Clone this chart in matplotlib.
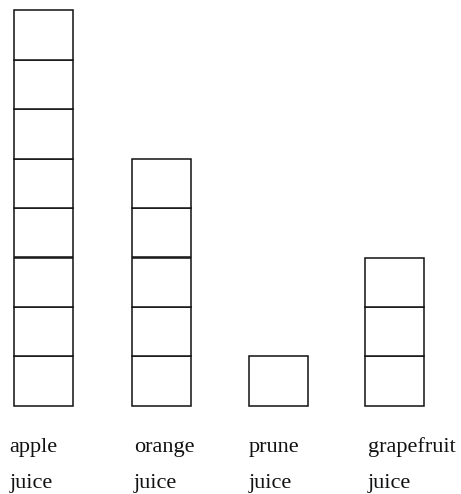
import matplotlib
matplotlib.use("Agg")
import matplotlib.pyplot as plt

# juice counts, one box per unit
juices = ["apple\njuice", "orange\njuice", "prune\njuice", "grapefruit\njuice"]
counts = [8, 5, 1, 3]

# column layout in pixels
col_left = [13.5, 131.5, 248.5, 364.5]
col_width = 59
label_left = [9.5, 134, 249, 368]
box_px = 49.4
base_px = 405.7
W, H = 461, 494

fig = plt.figure(figsize=(W / 100, H / 100), dpi=100)
ax = fig.add_axes([0, 0, 1, 1])
ax.set_xlim(0, W)
ax.set_ylim(-(H - base_px) / box_px, base_px / box_px)
ax.axis("off")

for name, n, x0, lx in zip(juices, counts, col_left, label_left):
    for i in range(n):
        ax.bar(x0, 1, bottom=i, width=col_width, align="edge",
               facecolor="white", edgecolor="#111111", linewidth=1.1)
    first, second = name.split("\n")
    ax.text(lx, -46.3 / box_px, first, family="Liberation Serif",
            fontsize=16, va="baseline", ha="left", color="#111111")
    ax.text(lx, -82.3 / box_px, second, family="Liberation Serif",
            fontsize=16, va="baseline", ha="left", color="#111111")

fig.savefig("out.png", dpi=100)
